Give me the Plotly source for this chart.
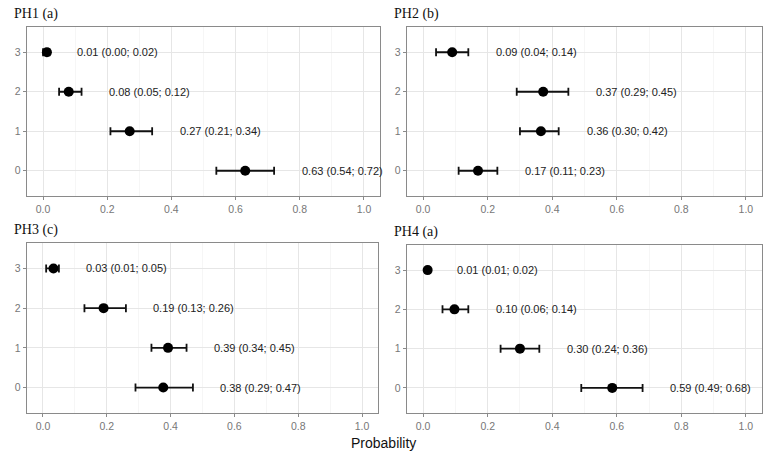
import plotly.graph_objects as go

categories = [0, 1, 2, 3]
panel_titles = ["PH1 (a)", "PH2 (b)", "PH3 (c)", "PH4 (a)"]
estimates = {
    "PH1 (a)": [0.63, 0.27, 0.08, 0.01],
    "PH2 (b)": [0.17, 0.36, 0.37, 0.09],
    "PH3 (c)": [0.38, 0.39, 0.19, 0.03],
    "PH4 (a)": [0.59, 0.30, 0.10, 0.01],
}
lower = {
    "PH1 (a)": [0.54, 0.21, 0.05, 0.00],
    "PH2 (b)": [0.11, 0.30, 0.29, 0.04],
    "PH3 (c)": [0.29, 0.34, 0.13, 0.01],
    "PH4 (a)": [0.49, 0.24, 0.06, 0.01],
}
upper = {
    "PH1 (a)": [0.72, 0.34, 0.12, 0.02],
    "PH2 (b)": [0.23, 0.42, 0.45, 0.14],
    "PH3 (c)": [0.47, 0.45, 0.26, 0.05],
    "PH4 (a)": [0.68, 0.36, 0.14, 0.02],
}
# exact point positions for markers (labels are rounded)
est_pos = {
    "PH1 (a)": [0.63, 0.27, 0.08, 0.012],
    "PH2 (b)": [0.17, 0.365, 0.372, 0.09],
    "PH3 (c)": [0.377, 0.392, 0.19, 0.033],
    "PH4 (a)": [0.586, 0.30, 0.097, 0.014],
}
label_text = {
    "PH1 (a)": ["0.63 (0.54; 0.72)", "0.27 (0.21; 0.34)", "0.08 (0.05; 0.12)", "0.01 (0.00; 0.02)"],
    "PH2 (b)": ["0.17 (0.11; 0.23)", "0.36 (0.30; 0.42)", "0.37 (0.29; 0.45)", "0.09 (0.04; 0.14)"],
    "PH3 (c)": ["0.38 (0.29; 0.47)", "0.39 (0.34; 0.45)", "0.19 (0.13; 0.26)", "0.03 (0.01; 0.05)"],
    "PH4 (a)": ["0.59 (0.49; 0.68)", "0.30 (0.24; 0.36)", "0.10 (0.06; 0.14)", "0.01 (0.01; 0.02)"],
}
x_ticks = [0.0, 0.2, 0.4, 0.6, 0.8, 1.0]
x_tick_labels = ["0.0", "0.2", "0.4", "0.6", "0.8", "1.0"]
x_title = "Probability"

W, H = 767, 459
# panel pixel boxes (left, right, top, bottom)
boxes = [(27, 380, 27, 196), (407, 762, 27, 196), (27, 378, 243, 413), (407, 762, 245, 413)]

fig = go.Figure()
annotations = []
for i, name in enumerate(panel_titles):
    l, r, t, b = boxes[i]
    xa = "x" if i == 0 else f"x{i+1}"
    ya = "y" if i == 0 else f"y{i+1}"
    xk = "xaxis" if i == 0 else f"xaxis{i+1}"
    yk = "yaxis" if i == 0 else f"yaxis{i+1}"
    ep = est_pos[name]
    lo = lower[name]
    up = upper[name]
    fig.add_trace(go.Scatter(
        x=ep, y=categories, mode="markers", xaxis=xa, yaxis=ya,
        marker=dict(color="black", size=10),
        error_x=dict(type="data", symmetric=False,
                     array=[u - e for u, e in zip(up, ep)],
                     arrayminus=[e - lw for e, lw in zip(ep, lo)],
                     color="#111111", thickness=1.8, width=4),
        showlegend=False, hoverinfo="skip"))
    for c, u, txt in zip(categories, up, label_text[name]):
        annotations.append(dict(x=u + 0.08, y=c, xref=xa, yref=ya, text=txt,
                                showarrow=False, xanchor="left", yanchor="middle",
                                font=dict(family="Liberation Sans, Arial", size=11, color="#222222")))
    annotations.append(dict(x=(l - 15) / W, y=1 - (t - 13) / H, xref="paper", yref="paper",
                            text=name, showarrow=False, xanchor="left", yanchor="middle",
                            font=dict(family="Liberation Serif, Times New Roman", size=14, color="#111111")))
    fig.layout[xk] = dict(domain=[l / W, r / W], range=[-0.05, 1.05], anchor=ya,
                          tickvals=x_ticks, ticktext=x_tick_labels,
                          showgrid=True, gridcolor="#e6e6e6", gridwidth=1,
                          minor=dict(showgrid=True, gridcolor="#f0f0f0", dtick=0.1, tick0=0, gridwidth=0.6),
                          showline=True, mirror=True, linecolor="#8a8a8a", linewidth=1.2,
                          ticks="outside", ticklen=3, tickcolor="#8a8a8a",
                          tickfont=dict(family="Liberation Sans, Arial", size=10.5, color="#777777"),
                          zeroline=False, fixedrange=True)
    fig.layout[yk] = dict(domain=[1 - b / H, 1 - t / H], range=[-0.64, 3.64], anchor=xa,
                          tickvals=categories, ticktext=[str(c) for c in categories],
                          showgrid=True, gridcolor="#e6e6e6", gridwidth=1,
                          showline=True, mirror=True, linecolor="#8a8a8a", linewidth=1.2,
                          ticks="outside", ticklen=3, tickcolor="#8a8a8a",
                          tickfont=dict(family="Liberation Sans, Arial", size=10.5, color="#777777"),
                          zeroline=False, fixedrange=True)

annotations.append(dict(x=383 / W, y=1 - 443 / H, xref="paper", yref="paper", text=x_title,
                        showarrow=False, xanchor="center", yanchor="middle",
                        font=dict(family="Liberation Sans, Arial", size=14, color="#111111")))

fig.update_layout(width=W, height=H, margin=dict(l=0, r=0, t=0, b=0),
                  paper_bgcolor="white", plot_bgcolor="white",
                  annotations=annotations, showlegend=False)
fig.write_html("out.html", config={"displayModeBar": False, "staticPlot": True},
               post_script="document.body.style.margin='0';document.body.style.overflow='hidden';")
